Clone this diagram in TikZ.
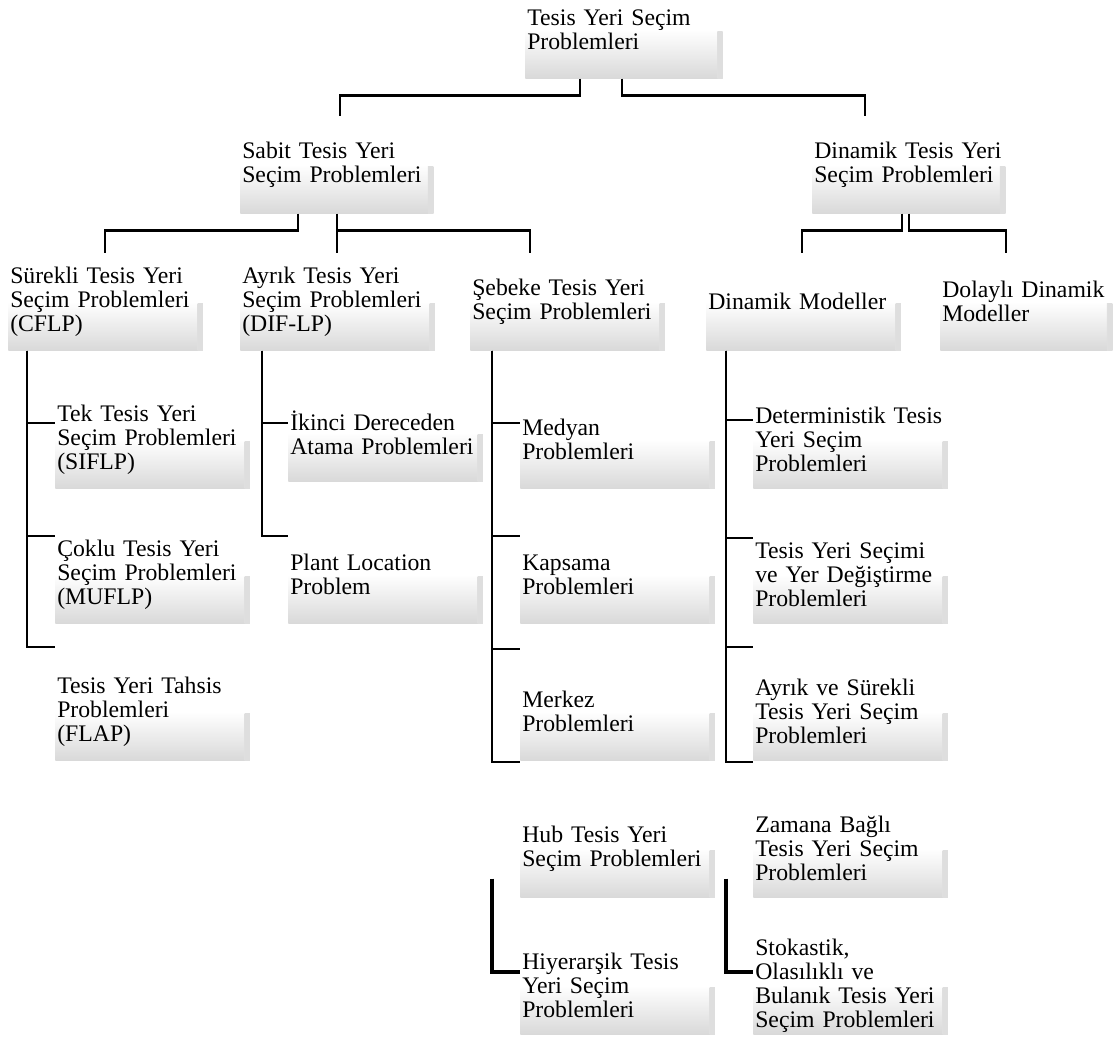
\documentclass[tikz,border=0pt]{standalone}
\usepackage{fontspec}
\setmainfont{Liberation Serif}

\tikzset{
	kutu/.style={anchor=north west,inner xsep=1.5pt,inner ysep=0pt,text width=#1,minimum height=72.75pt,align=left,
		font=\fontsize{17.8pt}{18pt}\selectfont,
		top color=white,bottom color=black!15,middle color=white,
		path picture={\shade[left color=black!4,right color=black!13] ([xshift=-4pt,yshift=-38pt]path picture bounding box.north east) rectangle (path picture bounding box.south east);}},
	kutu/.default=143pt,
	bag/.style={line width=2pt},
	kalin/.style={line width=3.5pt}
}

\begin{document}
\begin{tikzpicture}[x=0.75pt,y=-0.75pt]
	\useasboundingbox (0,0) rectangle (1113,1039);
	% ana seviyeler
	\node[kutu=145pt] (root) at (525,-19) {Tesis Yeri Seçim\\Problemleri};
	\node[kutu=141.75pt] (sabit) at (240,116) {Sabit Tesis Yeri\\Seçim Problemleri};
	\node[kutu=141.75pt] (din) at (812,116) {Dinamik Tesis Yeri\\Seçim Problemleri};
	\node[kutu] (sur) at (8,253) {Sürekli Tesis Yeri\\Seçim Problemleri\\(CFLP)};
	\node[kutu] (ayr) at (240,253) {Ayrık Tesis Yeri\\Seçim Problemleri\\(DIF-LP)};
	\node[kutu] (seb) at (470,253) {Şebeke Tesis Yeri\\Seçim Problemleri};
	\node[kutu] (dm) at (706,253) {Dinamik Modeller};
	\node[kutu=126pt] (dol) at (940,253) {Dolaylı Dinamik\\Modeller};
	% sürekli ve ayrık
	\node[kutu] (tek) at (55,391) {Tek Tesis Yeri\\Seçim Problemleri\\(SIFLP)};
	\node[kutu] (cok) at (55,526) {Çoklu Tesis Yeri\\Seçim Problemleri\\(MUFLP)};
	\node[kutu] (flap) at (55,663) {Tesis Yeri Tahsis\\Problemleri\\(FLAP)};
	\node[kutu] (iki) at (288,384) {İkinci Dereceden\\Atama Problemleri};
	\node[kutu] (pla) at (288,526) {Plant Location\\Problem};
	% şebeke
	\node[kutu] (med) at (520,391) {Medyan\\Problemleri};
	\node[kutu] (kap) at (520,526) {Kapsama\\Problemleri};
	\node[kutu] (mer) at (520,663) {Merkez\\Problemleri};
	\node[kutu] (hub) at (520,800) {Hub Tesis Yeri\\Seçim Problemleri};
	\node[kutu] (hiy) at (520,937) {Hiyerarşik Tesis\\Yeri Seçim\\Problemleri};
	% dinamik modeller
	\node[kutu] (det) at (753,391) {Deterministik Tesis\\Yeri Seçim\\Problemleri};
	\node[kutu] (tys) at (753,526) {Tesis Yeri Seçimi\\ve Yer Değiştirme\\Problemleri};
	\node[kutu] (ays) at (753,663) {Ayrık ve Sürekli\\Tesis Yeri Seçim\\Problemleri};
	\node[kutu] (zam) at (753,800) {Zamana Bağlı\\Tesis Yeri Seçim\\Problemleri};
	\node[kutu] (sto) at (753,937) {Stokastik,\\Olasılıklı ve\\Bulanık Tesis Yeri\\Seçim Problemleri};
	% bağlantılar
	\draw[bag] (root.south -| 580,0) -- ++(0,17) -| (sabit.north -| 340,0);
	\draw[bag] (root.south -| 622,0) -- ++(0,17) -| (din.north -| 865,0);
	\draw[bag] (sabit.south -| 298,0) -- ++(0,17) -| (sur.north -| 105,0);
	\draw[bag] (sabit.south -| 337,0) -- (ayr.north -| 337,0);
	\draw[bag] (sabit.south -| 337,0) ++(0,17) -| (seb.north -| 530,0);
	\draw[bag] (din.south -| 902,0) -- ++(0,17) -| (dm.north -| 802,0);
	\draw[bag] (din.south -| 909,0) -- ++(0,17) -| (dol.north -| 1006,0);
	\draw[bag] (sur.south -| 27,0) |- (tek.west |- 0,423);
	\draw[bag] (sur.south -| 27,0) |- (cok.west |- 0,536);
	\draw[bag] (sur.south -| 27,0) |- (flap.west |- 0,647);
	\draw[bag] (ayr.south -| 262,0) |- (iki.west |- 0,423);
	\draw[bag] (ayr.south -| 262,0) |- (pla.west |- 0,536);
	\draw[bag] (seb.south -| 492,0) |- (med.west |- 0,423);
	\draw[bag] (seb.south -| 492,0) |- (kap.west |- 0,536);
	\draw[bag] (seb.south -| 492,0) |- (mer.west |- 0,649);
	\draw[bag] (seb.south -| 492,0) |- (hub.west |- 0,762);
	\draw[kalin] (seb.south -| 492,0) ++(0,528) |- (hiy.west |- 0,972);
	\draw[bag] (dm.south -| 726,0) |- (det.west |- 0,420);
	\draw[bag] (dm.south -| 726,0) |- (tys.west |- 0,538);
	\draw[bag] (dm.south -| 726,0) |- (ays.west |- 0,647);
	\draw[bag] (dm.south -| 726,0) |- (zam.west |- 0,762);
	\draw[kalin] (dm.south -| 726,0) ++(0,528) |- (sto.west |- 0,972);
\end{tikzpicture}
\end{document}
